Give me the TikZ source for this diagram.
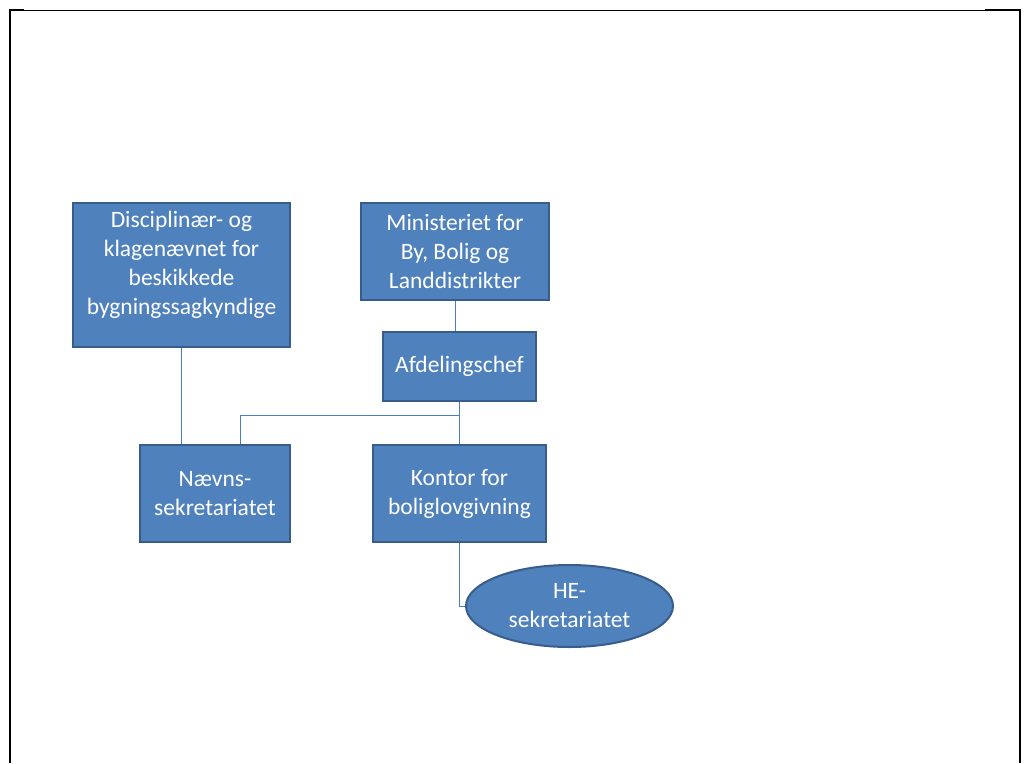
\documentclass[tikz,border=0pt]{standalone}
\usepackage{fontspec}
\setmainfont{Carlito}
\usepackage{xcolor}
\usepackage{tikz}
\usetikzlibrary{positioning, shapes.geometric}
\definecolor{BoxBlue}{RGB}{79,129,189}
\definecolor{BoxEdge}{RGB}{56,93,138}
\definecolor{LinkBlue}{RGB}{74,126,187}
\tikzset{
  orgbox/.style={draw=BoxEdge, line width=2pt, fill=BoxBlue, text=white, align=center,
    inner sep=2pt, font=\fontsize{23.5}{29}\selectfont},
  orgoval/.style={orgbox, ellipse},
  conn/.style={draw=LinkBlue, line width=1pt},
}

\begin{document}
\begin{tikzpicture}[x=1pt, y=-1pt]
  \useasboundingbox[fill=white] (0,0) rectangle (1024,763);
  % page frame
  \draw[line width=1pt] (10,10) -- (1020,10);
  \draw[line width=2pt] (24,10) -- (10,10) -- (10,763);
  \draw[line width=2pt] (985,10) -- (1020,10) -- (1020,763);

  \node[orgbox, minimum width=217pt, minimum height=144pt] (disc) at (181.5,275)
    {Disciplinær- og\\klagenævnet for\\beskikkede\\bygningssagkyndige\\[-5pt]\null};
  \node[orgbox, minimum width=188pt, minimum height=97pt] (mini) at (455,251.5)
    {Ministeriet for\\By, Bolig og\\Landdistrikter};
  \node[orgbox, minimum width=153pt, minimum height=69pt] (afd) at (459.5,366.5)
    {Afdelingschef};
  \node[orgbox, minimum width=150pt, minimum height=97pt] (naevns) at (215,493.5)
    {Nævns-\\sekretariatet};
  \node[orgbox, minimum width=173pt, minimum height=97pt] (kontor) at (459.5,493.5)
    {Kontor for\\boliglovgivning};
  \node[orgoval, minimum width=207pt, minimum height=82pt] (he) at (569.5,606)
    {HE-\\sekretariatet};

  \coordinate (split) at (459.5,415);
  \draw[conn] (mini.south) -- (mini.south |- afd.north);
  \draw[conn] (afd.south) -- (kontor.north);
  \draw[conn] (split) -| ([xshift=25]naevns.north);
  \draw[conn] (disc.south) -- (disc.south |- naevns.north);
  \draw[conn] (kontor.south) |- (he.west);
\end{tikzpicture}
\end{document}
